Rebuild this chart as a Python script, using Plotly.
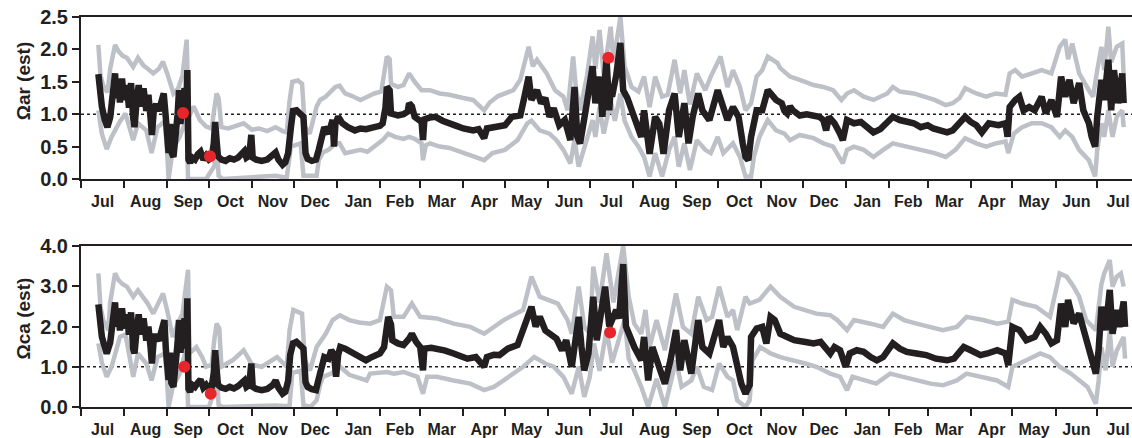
import pandas as pd
import plotly.graph_objects as go

# ---------------------------------------------------------------------------
# Saturation-state estimates, expressed as day offsets from 1 July 2011
# ---------------------------------------------------------------------------
START = pd.Timestamp("2011-07-01")

# --- aragonite saturation (top panel) --------------------------------------
ar_mid_day = [12.5, 13.5, 15, 17, 19, 21, 23, 24.5, 25.5, 27, 28, 29.5, 31, 33, 34.5, 36, 37.5, 38.5, 40, 41.5,
              43, 45, 47, 48.5, 50, 51, 52.5, 54, 56, 58, 59.5, 61, 62, 63, 64, 65, 66.5, 68, 69.5, 70.5,
              71.5, 73, 74.5, 75.5, 76.5, 77.3, 78.5, 80, 82, 84, 86, 88, 90, 92, 94, 95.5, 96.5, 97.5, 98.5, 101,
              104, 107, 110, 113, 116, 117.5, 119, 121, 122.5, 123.5, 126, 130, 134, 138, 140, 142, 145, 147, 149, 151,
              152.5, 155, 158, 160, 161.5, 163, 166, 169, 171, 173, 175, 178, 180, 181, 182, 183, 185, 188, 192, 197,
              201, 205, 211, 215, 217, 219, 220, 222, 223, 228, 232, 235, 236, 238, 240, 243, 245, 246, 247, 251,
              255, 260, 265, 270, 275, 282, 286, 290, 292, 299, 305, 310, 316, 319, 322, 324, 328, 331, 334, 337,
              340, 344, 348, 352, 354, 355, 357, 359, 363, 368, 370, 373, 375, 377, 378, 380, 381, 382, 385, 388,
              390, 393, 396, 400, 403, 405, 409, 413, 416, 419, 423, 427, 430, 434, 437, 440, 444, 447, 452, 458,
              462, 465, 469, 473, 476, 478, 480, 482, 486, 490, 494, 500, 504, 506, 508, 510, 512, 517, 522, 527,
              531, 534, 536, 538, 542, 546, 548, 551, 556, 561, 566, 570, 575, 580, 584, 589, 594, 599, 604, 609,
              613, 618, 623, 627, 631, 636, 640, 644, 648, 653, 660, 665, 666.5, 668, 672, 675, 678, 682, 686, 691,
              694, 698, 702, 705, 708, 711, 714, 718, 721, 725, 727, 729.5, 731, 734, 736, 739, 741, 743, 746, 749, 750]
ar_mid = [1.62, 1.35, 1.12, 0.92, 0.80, 0.95, 1.35, 1.63, 1.25, 1.50, 1.18, 1.55, 1.22, 1.45, 1.10, 1.48, 0.95, 0.80, 1.20, 1.45,
          1.12, 1.40, 1.05, 1.30, 0.95, 0.68, 1.10, 1.15, 1.05, 1.18, 1.32, 0.95, 0.60, 0.40, 0.85, 0.42, 0.34, 0.60, 1.00, 1.37,
          0.85, 1.15, 1.40, 0.95, 1.68, 0.30, 0.25, 0.33, 0.30, 0.38, 0.42, 0.30, 0.36, 0.30, 0.33, 0.55, 0.88, 0.60, 0.35, 0.30,
          0.28, 0.32, 0.30, 0.33, 0.40, 0.43, 0.33, 0.36, 0.68, 0.33, 0.30, 0.28, 0.30, 0.36, 0.41, 0.30, 0.22, 0.26, 0.40, 0.80,
          1.05, 1.06, 1.00, 0.96, 0.40, 0.31, 0.28, 0.30, 0.45, 0.65, 0.80, 0.70, 0.85, 0.91, 0.50, 0.85, 0.96, 0.86, 0.80, 0.75,
          0.78, 0.77, 0.80, 0.82, 0.86, 1.10, 1.42, 1.37, 1.01, 0.98, 1.00, 1.04, 1.17, 1.12, 0.96, 0.89, 0.88, 0.60, 0.92, 0.95,
          0.96, 0.90, 0.87, 0.82, 0.78, 0.75, 0.77, 0.63, 0.78, 0.80, 0.83, 0.96, 0.98, 1.27, 1.58, 1.22, 1.37, 1.17, 1.25, 0.96,
          1.09, 0.83, 0.91, 0.60, 1.20, 1.42, 0.65, 0.55, 1.06, 1.74, 1.17, 1.58, 0.96, 1.60, 1.86, 1.06, 1.40, 1.27, 1.60, 2.10,
          1.37, 1.25, 1.06, 0.81, 0.65, 1.06, 0.39, 0.96, 0.85, 0.39, 1.06, 1.32, 0.65, 1.17, 0.55, 0.96, 1.32, 1.06, 0.91, 1.37,
          1.06, 0.91, 1.11, 0.96, 0.55, 0.34, 0.29, 0.65, 1.06, 1.06, 1.37, 1.22, 1.17, 1.05, 1.01, 1.12, 1.06, 0.98, 1.00, 0.98,
          0.96, 0.91, 0.75, 0.96, 0.86, 0.70, 0.60, 0.91, 0.86, 0.88, 0.80, 0.72, 0.77, 0.86, 0.96, 0.91, 0.88, 0.86, 0.80, 0.83,
          0.78, 0.75, 0.72, 0.75, 0.83, 0.96, 0.88, 0.83, 0.72, 0.86, 0.83, 0.86, 0.65, 1.11, 1.22, 1.27, 1.06, 1.11, 1.06, 1.27,
          1.01, 1.22, 0.96, 1.58, 1.27, 1.53, 1.17, 1.48, 1.06, 0.86, 0.65, 0.50, 0.96, 1.53, 1.22, 1.84, 1.06, 1.68, 1.17, 1.63, 1.17]

ar_hi_day = [12.5, 14, 16, 19, 21, 24.5, 27, 30, 33, 37.5, 41, 45, 48, 52, 56, 59, 62, 66.5, 70, 73,
             76, 77.5, 81, 85.5, 90, 94, 96, 97.5, 99, 101, 106, 111, 117, 123, 128, 134, 140, 145, 148, 150,
             152, 156, 159, 161, 164.5, 169.5, 172, 176, 180, 183, 186, 190, 195, 201, 206, 211, 216, 219, 220, 222,
             223, 228, 232, 236, 240, 245, 251, 258, 265, 275, 282, 290, 294, 300, 305, 311, 316, 322, 325, 328,
             335, 341, 347, 350, 354, 356, 359, 364, 368, 370, 373, 376, 381, 383, 388, 391, 396, 401, 405, 409,
             413, 418, 422, 427, 431, 434, 438, 443, 449, 453, 460, 465, 469, 474, 478, 482, 486, 490, 494, 501,
             503, 510, 517, 527, 534, 541, 547, 551, 556, 563, 570, 580, 584, 589, 599, 606, 614, 622, 627, 632,
             636, 644, 651, 658, 665, 668, 672, 677, 684, 691, 698, 704, 708, 710, 713, 718, 725, 728, 731, 734,
             736, 739, 741, 745, 749, 750]
ar_hi = [2.07, 1.60, 1.44, 1.34, 1.70, 2.07, 1.97, 1.90, 1.87, 1.73, 1.87, 1.75, 1.70, 1.63, 1.70, 1.81, 1.63, 1.32, 1.40, 1.60,
         2.15, 0.95, 1.12, 0.91, 0.81, 0.78, 1.10, 1.32, 1.25, 0.80, 0.78, 0.82, 0.86, 0.76, 0.78, 0.74, 0.80, 0.74, 0.72, 1.20,
         1.50, 1.52, 1.47, 0.81, 0.70, 1.12, 1.22, 1.27, 1.37, 1.42, 1.44, 1.32, 1.28, 1.22, 1.27, 1.32, 1.35, 1.70, 1.89, 1.85,
         1.47, 1.42, 1.45, 1.63, 1.50, 1.37, 1.37, 1.32, 1.30, 1.25, 1.22, 1.06, 1.18, 1.28, 1.32, 1.37, 1.53, 2.04, 1.74, 1.84,
         1.63, 1.37, 1.27, 1.06, 1.89, 1.40, 1.06, 1.60, 2.20, 1.70, 2.30, 1.60, 2.35, 1.80, 2.50, 1.74, 1.42, 1.35, 1.58, 1.11,
         1.58, 1.27, 1.30, 1.84, 1.32, 1.68, 1.15, 1.63, 1.37, 1.58, 1.89, 1.42, 1.68, 1.42, 1.06, 1.17, 1.58, 1.68, 1.89, 1.79,
         1.71, 1.58, 1.53, 1.45, 1.42, 1.37, 1.22, 1.32, 1.37, 1.27, 1.22, 1.32, 1.42, 1.35, 1.32, 1.27, 1.22, 1.14, 1.17, 1.25,
         1.40, 1.32, 1.27, 1.32, 1.30, 1.63, 1.68, 1.58, 1.63, 1.68, 1.63, 2.04, 2.15, 1.85, 2.09, 1.63, 1.37, 1.27, 1.68, 2.04,
         1.68, 2.35, 1.80, 2.04, 2.09, 1.60]

ar_lo_day = [12.5, 15, 18.5, 22, 28, 32, 37.5, 41, 47, 50.8, 55, 60.4, 62, 63, 66, 71, 76, 77, 90, 96,
             97.5, 99, 102, 120, 140, 148, 151, 158, 160, 169.5, 171, 174, 178, 183, 186, 190, 196, 201, 206, 211,
             217, 221, 226, 232, 236, 240, 245, 246, 248, 251, 258, 265, 275, 282, 290, 296, 305, 314, 321, 324,
             330, 337, 342, 347, 352, 355, 358, 363, 368, 370, 373, 376, 381, 384, 388, 391, 396, 401, 405, 409,
             413, 418, 423, 427, 430, 434, 438, 443, 449, 453, 458, 462, 469, 474, 478, 482, 484, 488, 494, 500,
             506, 510, 517, 527, 534, 541, 548, 551, 556, 563, 570, 577, 584, 594, 604, 614, 622, 629, 636, 644,
             651, 658, 665, 667, 671, 677, 684, 691, 698, 704, 708, 713, 718, 725, 729.5, 731, 734, 736, 739, 742,
             745, 749, 750]
ar_lo = [1.06, 0.70, 0.46, 0.65, 0.89, 1.01, 0.60, 0.86, 0.75, 0.40, 0.80, 0.89, 0.40, 0.00, 0.46, 0.65, 0.93, 0.00, 0.00, 0.20,
         0.60, 0.05, 0.00, 0.03, 0.05, 0.02, 0.50, 0.55, 0.05, 0.05, 0.29, 0.41, 0.45, 0.55, 0.55, 0.40, 0.43, 0.45, 0.42, 0.50,
         0.60, 0.70, 0.65, 0.62, 0.65, 0.62, 0.55, 0.29, 0.52, 0.55, 0.50, 0.48, 0.40, 0.34, 0.29, 0.40, 0.45, 0.60, 0.86, 0.90,
         0.75, 0.70, 0.60, 0.45, 0.24, 0.60, 0.19, 0.55, 0.91, 0.65, 1.11, 0.70, 1.20, 0.90, 1.32, 0.90, 0.65, 0.50, 0.34, 0.04,
         0.40, 0.04, 0.45, 0.65, 0.19, 0.55, 0.14, 0.60, 0.45, 0.40, 0.65, 0.40, 0.55, 0.34, 0.04, 0.04, 0.34, 0.65, 0.91, 0.75,
         0.70, 0.60, 0.68, 0.63, 0.55, 0.50, 0.24, 0.45, 0.50, 0.45, 0.34, 0.45, 0.55, 0.50, 0.45, 0.40, 0.34, 0.45, 0.63, 0.55,
         0.50, 0.55, 0.58, 0.40, 0.70, 0.80, 0.86, 0.86, 0.80, 0.65, 0.75, 0.65, 0.45, 0.29, 0.04, 0.45, 0.86, 0.65, 1.06, 0.65,
         0.96, 1.06, 0.80]

ar_obs_day = [73.4, 92.8, 379.3]
ar_obs = [1.02, 0.35, 1.87]

# --- calcite saturation (bottom panel) -------------------------------------
ca_mid_day = [12.5, 13.5, 15, 17, 18.5, 21, 23, 24.5, 25.5, 27, 28, 29.5, 31, 33, 34.5, 36, 37.5, 38.5, 40, 41.5,
              43, 45, 47, 48.5, 50, 51, 52.5, 54, 56, 58, 60, 61, 62, 63, 64, 65, 66.5, 68, 69.5, 70.5,
              71.5, 73, 74.5, 75.5, 76.5, 77.3, 78.5, 80, 82, 84, 86, 88, 90, 92, 94, 95.5, 96.5, 97.5, 98.5, 101,
              104, 107, 110, 113, 116, 117.5, 119, 121, 122.5, 123.5, 126, 130, 134, 138, 140, 142, 145, 147, 149, 150.5,
              152.5, 155, 158, 160, 161.5, 163, 166, 169, 171, 173, 175, 178, 180, 182, 183.5, 185, 186.5, 190, 195, 200,
              205, 208, 212, 215, 218, 220, 221, 223, 224, 228, 232, 236, 238, 241, 244, 246, 247, 252, 256, 262,
              268, 274, 278, 284, 288, 290, 292, 297, 301, 307, 314, 318, 321, 324, 327, 330, 334, 338, 342, 346,
              349, 353, 356, 358, 360, 362, 365, 368.5, 371, 377, 380, 385, 387, 390, 392, 394, 398, 403, 405, 408,
              411, 415, 420, 424, 428, 431, 434, 439, 444, 447, 452, 459, 462, 465, 469, 475, 478, 481, 482, 486,
              490, 493, 496, 499, 503, 508, 513, 520, 527, 532, 539, 542, 546, 550, 553, 558, 563, 568, 572.5, 577,
              584, 589, 594, 601, 608, 615, 623, 628, 635, 640, 647, 652, 659, 665, 667, 670, 675, 680, 686, 690,
              694, 698, 702, 705, 708, 710, 714, 718, 722, 726, 730, 732, 734, 737, 740, 742, 745, 747, 750, 751]
ca_mid = [2.55, 2.10, 1.75, 1.50, 1.33, 1.60, 2.10, 2.60, 2.00, 2.35, 1.90, 2.45, 1.95, 2.30, 1.80, 2.35, 1.45, 1.33, 1.90, 2.30,
          1.80, 2.20, 1.65, 2.00, 1.50, 1.08, 1.75, 1.75, 1.65, 1.85, 2.16, 1.45, 0.95, 0.67, 1.35, 0.60, 0.50, 0.95, 1.60, 2.16,
          1.35, 1.85, 2.20, 1.45, 2.70, 0.45, 0.38, 0.55, 0.50, 0.60, 0.68, 0.48, 0.55, 0.45, 0.50, 0.85, 1.41, 0.95, 0.55, 0.48,
          0.45, 0.50, 0.46, 0.52, 0.62, 0.66, 0.50, 0.55, 1.08, 0.50, 0.45, 0.42, 0.45, 0.55, 0.66, 0.48, 0.33, 0.38, 0.65, 1.30,
          1.58, 1.62, 1.52, 1.45, 0.62, 0.50, 0.44, 0.42, 0.70, 1.08, 1.24, 1.20, 1.41, 1.30, 0.75, 1.30, 1.49, 1.45, 1.35, 1.24,
          1.16, 1.22, 1.28, 1.33, 1.49, 1.90, 2.24, 2.05, 1.66, 1.58, 1.54, 1.70, 1.82, 1.62, 1.49, 0.91, 1.45, 1.47, 1.45, 1.40,
          1.33, 1.25, 1.20, 1.24, 1.10, 1.00, 1.24, 1.30, 1.29, 1.45, 1.54, 1.91, 2.10, 2.49, 2.00, 2.24, 1.90, 1.82, 1.70, 1.41,
          1.66, 1.00, 1.90, 2.24, 1.50, 0.91, 1.33, 2.74, 1.66, 2.99, 2.00, 2.41, 2.20, 3.55, 2.00, 1.80, 1.49, 1.16, 1.74, 0.66,
          1.49, 1.08, 0.58, 1.16, 1.91, 0.91, 1.66, 0.83, 2.16, 1.49, 1.33, 2.16, 1.49, 1.74, 1.49, 0.58, 0.33, 0.55, 1.74, 1.95,
          1.99, 1.58, 2.24, 2.16, 1.82, 1.74, 1.66, 1.62, 1.58, 1.62, 1.33, 1.49, 1.41, 1.00, 1.33, 1.41, 1.37, 1.24, 1.16, 1.24,
          1.58, 1.45, 1.37, 1.33, 1.29, 1.20, 1.16, 1.20, 1.49, 1.41, 1.29, 1.33, 1.41, 1.33, 1.04, 1.99, 1.91, 1.66, 1.74, 1.99,
          1.82, 1.58, 1.66, 2.57, 1.99, 2.66, 2.08, 2.32, 1.82, 1.33, 0.83, 1.41, 2.49, 1.91, 2.91, 1.82, 2.41, 1.99, 2.62, 1.99]

ca_hi_day = [12.5, 14, 16, 19.7, 21, 24.5, 27, 30, 33, 37.6, 41, 45, 48, 52, 56, 59, 62, 66, 70, 73,
             77, 78, 83, 87, 90, 94, 96, 97.6, 99.5, 101, 109, 117, 123, 130, 141, 148, 150, 152.7, 159, 161,
             164.7, 169.5, 176, 181, 186.3, 193, 200, 205.5, 208, 215, 218, 220, 223, 225, 232, 238, 244, 256, 268, 280,
             290, 297, 304, 318, 321, 324, 330, 336, 343, 350, 353, 358, 362, 366, 368.5, 373, 378, 383, 390, 394,
             398, 403, 406, 409, 414, 420, 426, 428, 433, 439, 444, 450, 454, 459, 465, 469, 472, 478, 481, 488,
             496, 503, 513, 521, 529, 539, 544, 551, 556, 568, 577, 584, 592, 601, 611, 620, 630, 637, 649, 659,
             667, 670, 677, 687, 697, 704, 709, 714, 718, 723, 730, 734, 736, 740, 742, 745, 748, 750]
ca_hi = [3.32, 2.50, 2.16, 1.91, 2.60, 3.32, 3.15, 3.05, 2.99, 2.74, 2.90, 2.70, 2.57, 2.32, 2.60, 2.82, 2.40, 1.74, 2.10, 2.32,
         3.41, 1.33, 1.49, 1.25, 1.00, 1.05, 1.70, 2.07, 1.95, 1.00, 1.16, 1.41, 1.05, 1.00, 1.24, 1.00, 1.90, 2.41, 2.32, 1.16,
         0.91, 1.49, 1.82, 2.16, 2.28, 2.16, 2.10, 2.07, 2.07, 2.16, 2.60, 2.99, 2.90, 2.24, 2.24, 2.57, 2.24, 2.20, 2.07, 1.99,
         1.82, 1.99, 2.16, 2.41, 2.80, 3.24, 2.74, 2.66, 2.57, 2.16, 1.82, 2.99, 2.00, 1.82, 3.49, 2.60, 3.82, 2.60, 4.00, 2.74,
         2.07, 1.82, 2.41, 1.49, 2.16, 1.41, 2.57, 2.82, 1.99, 1.82, 2.74, 2.16, 2.24, 2.99, 2.24, 2.41, 1.91, 2.74, 2.57, 2.66,
         2.99, 2.74, 2.49, 2.41, 2.32, 2.28, 2.16, 1.91, 2.16, 2.07, 1.99, 2.32, 2.16, 2.07, 1.99, 1.91, 1.99, 2.24, 2.16, 2.07,
         2.12, 2.66, 2.57, 2.49, 2.24, 3.32, 3.24, 2.99, 2.74, 2.16, 1.91, 3.05, 3.32, 3.65, 2.99, 3.24, 3.32, 2.99]

ca_lo_day = [12.5, 15, 18.5, 22, 28, 32, 37.6, 41, 47, 50.8, 55, 60.4, 62, 63, 66, 71, 76, 77, 92, 96,
             97.6, 99, 102, 120, 140, 150, 152, 158, 160, 165, 169.5, 172, 174, 180, 186.3, 193, 200, 205.5, 208, 220,
             225, 232, 242, 246, 249, 256, 268, 280, 290, 297, 304, 318, 326, 334, 340, 347, 353, 358, 362, 366,
             369, 373, 378, 382, 391, 394, 398, 403, 408, 414, 420, 426, 428, 432, 439, 443, 448, 454, 459, 465,
             469, 472, 478, 481, 483, 488.5, 496, 503, 513, 521, 529, 539, 546, 551, 555, 563, 572, 582, 592, 601,
             611, 620, 630, 637, 649, 659, 667, 670, 680, 690, 697, 704, 712, 718, 724, 730, 732, 734, 737, 740,
             742, 745, 750, 751]
ca_lo = [1.58, 1.10, 0.75, 1.00, 1.74, 1.80, 0.75, 1.33, 1.08, 0.66, 1.24, 1.33, 0.60, 0.00, 0.50, 0.83, 1.49, 0.00, 0.00, 0.40,
         0.83, 0.05, 0.00, 0.02, 0.04, 0.02, 0.85, 0.90, 0.05, 0.00, 0.17, 0.55, 0.75, 0.83, 1.00, 0.80, 0.72, 0.66, 0.83, 0.87,
         0.83, 0.87, 0.75, 0.33, 0.75, 0.75, 0.66, 0.58, 0.42, 0.50, 0.66, 1.00, 1.24, 1.08, 1.00, 0.75, 0.33, 1.00, 0.25, 0.75,
         1.58, 0.90, 1.91, 1.10, 2.16, 1.20, 0.91, 0.50, 0.00, 0.70, 0.00, 0.80, 1.16, 0.50, 0.66, 1.00, 0.50, 0.42, 1.08, 0.75,
         0.66, 0.17, 0.00, 0.17, 1.16, 1.49, 1.33, 1.24, 1.16, 1.08, 1.00, 0.83, 0.75, 0.42, 0.75, 0.66, 0.58, 0.83, 0.75, 0.66,
         0.58, 0.54, 0.66, 0.83, 0.75, 0.66, 0.50, 1.00, 1.16, 1.33, 1.24, 1.00, 0.83, 0.66, 0.50, 0.08, 0.66, 1.49, 0.91, 1.91,
         1.00, 1.40, 1.74, 1.20]

ca_obs_day = [74.3, 93.3, 380.6]
ca_obs = [1.00, 0.33, 1.85]

# ---------------------------------------------------------------------------
INK = "#231f20"
BAND = "#bdc1c7"
DOT = "#e8252b"
FONT = "Liberation Sans, Arial, sans-serif"


def dates(days):
    return [START + pd.Timedelta(days=float(d)) for d in days]


fig = go.Figure()

panels = [
    ("x", "y", ar_lo_day, ar_lo, ar_hi_day, ar_hi, ar_mid_day, ar_mid, ar_obs_day, ar_obs),
    ("x2", "y2", ca_lo_day, ca_lo, ca_hi_day, ca_hi, ca_mid_day, ca_mid, ca_obs_day, ca_obs),
]
for xa, ya, lo_d, lo, hi_d, hi, mid_d, mid, ob_d, ob in panels:
    for d, v in ((lo_d, lo), (hi_d, hi)):
        fig.add_trace(go.Scatter(x=dates(d), y=v, mode="lines", xaxis=xa, yaxis=ya,
                                 line=dict(color=BAND, width=4.5), hoverinfo="skip"))
    fig.add_trace(go.Scatter(x=dates(mid_d), y=mid, mode="lines", xaxis=xa, yaxis=ya,
                             line=dict(color=INK, width=6.5)))
    fig.add_trace(go.Scatter(x=dates(ob_d), y=ob, mode="markers", xaxis=xa, yaxis=ya,
                             marker=dict(color=DOT, size=12, line=dict(width=0))))

x_range = ["2011-07-01", "2013-07-26"]
xaxis_style = dict(type="date", range=x_range, dtick="M1", tick0="2011-07-01", tickformat="%b",
                   ticklabelmode="period", ticks="outside", ticklen=7, tickwidth=2, tickcolor=INK,
                   showline=True, linewidth=2, linecolor=INK, mirror=True, showgrid=False,
                   zeroline=False, tickfont=dict(family=FONT, size=16, color=INK, weight="bold"))
yaxis_style = dict(ticks="outside", ticklen=7, tickwidth=2, tickcolor=INK, showline=True,
                   linewidth=2, linecolor=INK, showgrid=False, zeroline=False, tickformat=".1f",
                   tickfont=dict(family=FONT, size=20, color=INK, weight="bold"))

top_dom = [0.5846, 1.0]
bot_dom = [0.0, 0.4128]

fig.update_layout(
    width=1132, height=438,
    margin=dict(l=81, r=0, t=17, b=31),
    paper_bgcolor="white", plot_bgcolor="white",
    showlegend=False,
    xaxis=dict(domain=[0, 1], anchor="y", **xaxis_style),
    xaxis2=dict(domain=[0, 1], anchor="y2", **xaxis_style),
    yaxis=dict(domain=top_dom, anchor="x", range=[0, 2.5], dtick=0.5, **yaxis_style),
    yaxis2=dict(domain=bot_dom, anchor="x2", range=[0, 4.0], dtick=1.0, **yaxis_style),
)

# reference level Omega = 1
for xr, yr in (("x domain", "y"), ("x2 domain", "y2")):
    fig.add_shape(type="line", xref=xr, yref=yr, x0=0, x1=1, y0=1, y1=1, layer="below",
                  line=dict(color=INK, width=1.6, dash="dot"))

# axis titles (set a little above each panel's mid-height)
for txt, ypos in (("Ωar (est)", 0.835), ("Ωca (est)", 0.227)):
    fig.add_annotation(text=txt, xref="paper", yref="paper", x=0, y=ypos, xshift=-58,
                       textangle=-90, showarrow=False, xanchor="center", yanchor="middle",
                       font=dict(family=FONT, size=19, color=INK, weight="bold"))

fig.write_html("out.html")
